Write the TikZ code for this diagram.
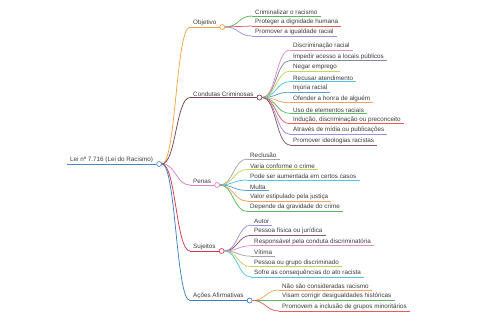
\documentclass[tikz,border=0pt]{standalone}
\usepackage{fontspec}
\setmainfont{Liberation Sans}
\usetikzlibrary{positioning}

\definecolor{ink}{HTML}{3A3A3A}
\definecolor{cRoot}{HTML}{4A86C8}
\definecolor{cObj}{HTML}{F4A340}
\definecolor{cCond}{HTML}{7E4450}
\definecolor{cPen}{HTML}{E27CCB}
\definecolor{cSuj}{HTML}{D43A4E}
\definecolor{cAcao}{HTML}{3D7EC4}
\definecolor{cGreen}{HTML}{5CB85C}
\definecolor{cRed}{HTML}{E65C5C}
\definecolor{cPurple}{HTML}{9D90DC}
\definecolor{cPink}{HTML}{E48CC6}
\definecolor{cSlate}{HTML}{7D8CA3}
\definecolor{cLime}{HTML}{C6D35A}
\definecolor{cCyan}{HTML}{4FC3E3}
\definecolor{cBlue}{HTML}{5B9BD5}
\definecolor{cOrange}{HTML}{F2A45C}
\definecolor{cMaroon}{HTML}{8A5A64}
\definecolor{cGrey}{HTML}{A5A5A5}

\tikzset{
  topic/.style={font=\fontsize{6.3}{7}\selectfont, text=ink, anchor=south west, inner xsep=3pt, inner ysep=1pt},
  knob/.style={circle, draw, fill=white, line width=0.7pt, inner sep=0pt, minimum size=5pt, anchor=west},
  wire/.style={line width=0.75pt},
}

\begin{document}
\begin{tikzpicture}[x=1pt, y=-1pt]
\useasboundingbox (0,0) rectangle (480,320);

% root
\node[topic] (root) at (67,164) {Lei nº 7.716 (Lei do Racismo)};
\draw[wire, cRoot] (root.south west) -- (root.south east);
\node[knob, draw=cRoot] (rootk) at (root.south east) {};

% main branches
\foreach \n/\t/\c/\y in {obj/Objetivo/cObj/27, cond/Condutas Criminosas/cCond/97.5, pen/Penas/cPen/185, suj/Sujeitos/cSuj/251, acao/Ações Afirmativas/cAcao/300.5} {
  \node[topic] (\n) at (190,\y) {\t};
  \draw[wire, \c] (\n.south west) -- (\n.south east);
  \draw[wire, \c] (rootk.east) .. controls +(14,0) and +(-14,0) .. (\n.south west);
  \node[knob, draw=\c] (\n k) at (\n.south east) {};
}

% Objetivo
\foreach \t/\c [count=\i] in {Criminalizar o racismo/cGreen, Proteger a dignidade humana/cRed, Promover a igualdade racial/cPurple} {
  \node[topic] (obj\i) at (252, 6+10*\i) {\t};
  \draw[wire, \c] (obj\i.south west) -- (obj\i.south east);
  \draw[wire, \c] (objk.east) .. controls +(14,0) and +(-14,0) .. (obj\i.south west);
}

% Condutas Criminosas
\foreach \t/\c [count=\i] in {Discriminação racial/cPink, Impedir acesso a locais públicos/cSlate, Negar emprego/cLime, Recusar atendimento/cCyan, Injúria racial/cBlue, Ofender a honra de alguém/cOrange, Uso de elementos raciais/cGreen, {Indução, discriminação ou preconceito}/cRed, Através de mídia ou publicações/cPurple, Promover ideologias racistas/cMaroon} {
  \node[topic] (cond\i) at (290, 39.45+10.55*\i) {\t};
  \draw[wire, \c] (cond\i.south west) -- (cond\i.south east);
  \draw[wire, \c] (condk.east) .. controls +(14,0) and +(-14,0) .. (cond\i.south west);
}

% Penas
\foreach \t/\c [count=\i] in {Reclusão/cGrey, Varia conforme o crime/cLime, Pode ser aumentada em certos casos/cCyan, Multa/cBlue, Valor estipulado pela justiça/cOrange, Depende da gravidade do crime/cGreen} {
  \node[topic] (pen\i) at (247, 148.5+10.5*\i) {\t};
  \draw[wire, \c] (pen\i.south west) -- (pen\i.south east);
  \draw[wire, \c] (penk.east) .. controls +(13,0) and +(-13,0) .. (pen\i.south west);
}

% Sujeitos
\foreach \t/\c [count=\i] in {Autor/cPurple, Pessoa física ou jurídica/cMaroon, Responsável pela conduta discriminatória/cPink, Vítima/cGrey, Pessoa ou grupo discriminado/cLime, Sofre as consequências do ato racista/cCyan} {
  \node[topic] (suj\i) at (251, 214.6+10.4*\i) {\t};
  \draw[wire, \c] (suj\i.south west) -- (suj\i.south east);
  \draw[wire, \c] (sujk.east) .. controls +(13,0) and +(-13,0) .. (suj\i.south west);
}

% Ações Afirmativas
\foreach \t/\c [count=\i] in {Não são consideradas racismo/cOrange, Visam corrigir desigualdades históricas/cGreen, Promovem a inclusão de grupos minoritários/cRed} {
  \node[topic] (acao\i) at (279, 279.5+10.5*\i) {\t};
  \draw[wire, \c] (acao\i.south west) -- (acao\i.south east);
  \draw[wire, \c] (acaok.east) .. controls +(13,0) and +(-13,0) .. (acao\i.south west);
}
\end{tikzpicture}
\end{document}
